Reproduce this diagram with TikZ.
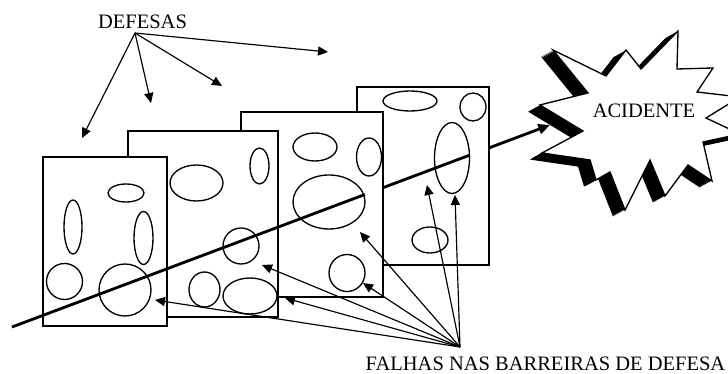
\documentclass[tikz,border=0pt]{standalone}
\usepackage{fontspec}
\setmainfont{Liberation Serif}
\usetikzlibrary{arrows.meta,calc,positioning}

\newcommand{\burstpath}{(540,105) -- (588,93) -- (553,50) -- (606,76) -- (626,50) -- (641,69) -- (678,31) -- (677,69) -- (713,68) -- (697,92) -- (740,97) -- (706,118) -- (740,134) -- (703,142) -- (712,181) -- (688,165) -- (665,196) -- (650,160) -- (625,210) -- (610,172) -- (596,180) -- (590,160) -- (542,153) -- (583,131) -- cycle}

\begin{document}
\begin{tikzpicture}[x=0.6pt,y=-0.6pt,
    card/.style={draw, fill=white, line width=1pt},
    hole/.style={draw, line width=0.8pt},
    pointer/.style={-{Triangle[length=6pt,width=5.5pt]}, line width=0.7pt},
    caption/.style={font=\fontsize{12.3}{14}\selectfont, inner sep=0pt}]
    \useasboundingbox (0,0) rectangle (728,374);

    % barriers, back to front
    \draw[card] (357,87) rectangle (489,265);
    \draw[hole] (410,101) ellipse [x radius=27, y radius=10];
    \draw[hole] (473,107) ellipse [x radius=13, y radius=14];
    \draw[hole] (452,158) ellipse [x radius=17.5, y radius=35.5];
    \draw[hole] (430,240) ellipse [x radius=18, y radius=13];

    \draw[card] (241,112) rectangle (383,297);
    \draw[hole] (315,147) ellipse [x radius=22, y radius=14];
    \draw[hole] (369,157) ellipse [x radius=12.5, y radius=19];
    \draw[hole] (329,202) ellipse [x radius=36, y radius=27];
    \draw[hole] (347,273) ellipse [x radius=18, y radius=18.5];

    \draw[card] (128,131) rectangle (278,317);
    \draw[hole] (196.5,183) ellipse [x radius=26.5, y radius=18];
    \draw[hole] (259.5,166) ellipse [x radius=9.5, y radius=18];
    \draw[hole] (241,246) ellipse [x radius=18, y radius=18];
    \draw[hole] (204.5,289.5) ellipse [x radius=15.5, y radius=17.5];
    \draw[hole] (250,296) ellipse [x radius=27, y radius=18];

    \draw[card] (43,157) rectangle (167,326);
    \draw[hole] (126,193) ellipse [x radius=18, y radius=9];
    \draw[hole] (73,227) ellipse [x radius=9, y radius=27];
    \draw[hole] (143.5,238) ellipse [x radius=9.5, y radius=26.5];
    \draw[hole] (64.5,281.5) ellipse [x radius=18, y radius=18];
    \draw[hole] (125,290) ellipse [x radius=26, y radius=26];

    % trajectory through the holes
    \coordinate (start) at (12,327);
    \coordinate (hit) at (550,125);
    \draw[line width=1.7pt] (start) -- ($(start)!0.656!(hit)$);
    \draw[line width=1.7pt] ($(start)!0.6896!(hit)$) -- ($(start)!0.851!(hit)$);
    \draw[line width=1.7pt, -{Triangle[length=7pt,width=6pt]}] ($(start)!0.8866!(hit)$) -- (hit);

    % accident
    \foreach \k in {1,...,12}
        \fill[black, shift={(-\k,0.55*\k)}] \burstpath;
    \draw[fill=white, line width=0.8pt] \burstpath;
    \node[caption] (acidente) at (644,111) {ACIDENTE};

    % defences
    \node[caption] (defesas) at (142.5,21.5) {DEFESAS};
    \coordinate (dsrc) at (135,33);
    \coordinate (d1) at (82,138);
    \coordinate (d2) at (151,103);
    \coordinate (d3) at (222,86);
    \coordinate (d4) at (328,52);
    \foreach \t in {d1,d2,d3,d4}
        \draw[pointer] (dsrc) -- (\t);

    % failures
    \node[caption] (falhas) at (545.5,363.5) {FALHAS NAS BARREIRAS DE DEFESA};
    \coordinate (fsrc) at (460,347);
    \coordinate (f1) at (155,300);
    \coordinate (f2) at (262,265);
    \coordinate (f3) at (285,298);
    \coordinate (f4) at (360,232);
    \coordinate (f5) at (363,283);
    \coordinate (f6) at (427,185);
    \coordinate (f7) at (455,195);
    \foreach \t in {f1,f2,f3,f4,f5,f6,f7}
        \draw[pointer] (fsrc) -- (\t);
\end{tikzpicture}
\end{document}
